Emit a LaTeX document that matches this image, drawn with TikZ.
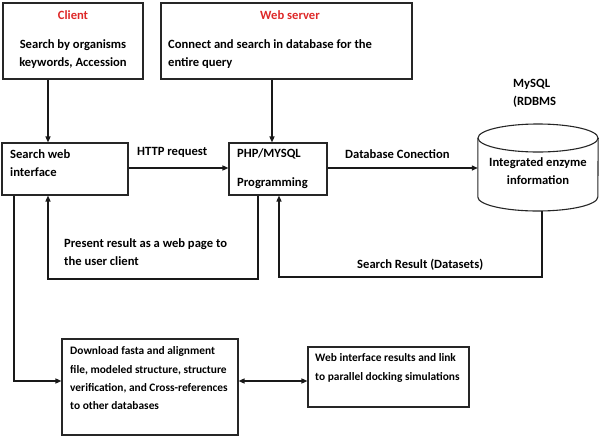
\documentclass[tikz,border=0pt]{standalone}
\usepackage{fontspec}
\setmainfont{Carlito}
\usetikzlibrary{arrows.meta}
\definecolor{hdred}{RGB}{222,40,40}
\begin{document}
\begin{tikzpicture}[x=1pt,y=-1pt,
  box/.style={draw=black!85,line width=1.1pt,inner sep=0pt},
  txt/.style={inner sep=0pt,anchor=north west,align=left,font=\bfseries\fontsize{12.6}{18.3}\selectfont},
  stxt/.style={txt,font=\bfseries\fontsize{11.4}{18.3}\selectfont},
  ctxt/.style={inner sep=0pt,align=center,font=\bfseries\fontsize{12.6}{18.3}\selectfont},
  conn/.style={line width=1.3pt,black!90},
  arr/.style={conn,-{Triangle[length=6pt,width=5pt]}},
  darr/.style={conn,{Triangle[length=6pt,width=5pt]}-{Triangle[length=6pt,width=5pt]}}]
\useasboundingbox (0,0) rectangle (600,437);
% boxes
\node[box,minimum width=140pt,minimum height=76pt] (client) at (73,41) {};
\node[box,minimum width=251pt,minimum height=76pt] (web) at (286.5,41) {};
\node[box,minimum width=126pt,minimum height=52pt] (swi) at (65,169) {};
\node[box,minimum width=98pt,minimum height=52pt] (php) at (278,169) {};
\node[box,minimum width=176pt,minimum height=96pt] (dl) at (150,387) {};
\node[box,minimum width=161pt,minimum height=60pt] (wir) at (388.5,377) {};
% database cylinder
\node[inner sep=0pt,minimum width=120pt,minimum height=87pt] (db) at (538,167.5) {};
\draw[box] (db.west |- 0,138) -- (db.west |- 0,197) arc[start angle=180,end angle=360,x radius=60pt,y radius=14pt] -- (db.east |- 0,138);
\draw[box] (538,138) ellipse[x radius=60pt,y radius=14pt];
% texts
\node[ctxt,text=hdred] at (73,15) {Client};
\node[ctxt] at (73,54) {Search by organisms\\keywords, Accession};
\node[ctxt,text=hdred] at (290,15) {Web server};
\node[txt] at (168,39) {Connect and search in database for the\\entire query};
\node[txt] at (513,79) {MySQL\\(RDBMS};
\node[txt] at (10,149) {Search web\\interface};
\node[txt] at (237,148) {PHP/MYSQL};
\node[txt] at (237,177) {Programming};
\node[ctxt] at (538,171) {Integrated enzyme\\information};
\node[txt] at (137,147) {HTTP request};
\node[txt] at (345,149) {Database Conection};
\node[txt] at (64,238) {Present result as a web page to\\the user client};
\node[txt] at (357,259) {Search Result (Datasets)};
\node[stxt] at (70,346.5) {Download fasta and  alignment\\file, modeled structure, structure\\verification, and Cross-references\\to other databases};
\node[stxt] at (315,353.5) {Web interface results and link\\to parallel docking simulations};
% connectors
\draw[arr] (client.south -| 48,0) -- (swi.north -| 48,0);
\draw[arr] (web.south -| 272,0) -- (php.north -| 272,0);
\draw[arr] (swi.east |- 0,168) -- (php.west |- 0,168);
\draw[arr] (php.east |- 0,168) -- (db.west |- 0,168);
\draw[arr] (php.south -| 258,0) -- (258,279) -- (48,279) -- (swi.south -| 48,0);
\draw[arr] (db.south -| 542,0) -- (542,277) -- (279,277) -- (php.south -| 279,0);
\draw[arr] (swi.south -| 14,0) -- (14,381) -- (dl.west |- 0,381);
\draw[darr] (dl.east |- 0,381) -- (wir.west |- 0,381);
\end{tikzpicture}
\end{document}
